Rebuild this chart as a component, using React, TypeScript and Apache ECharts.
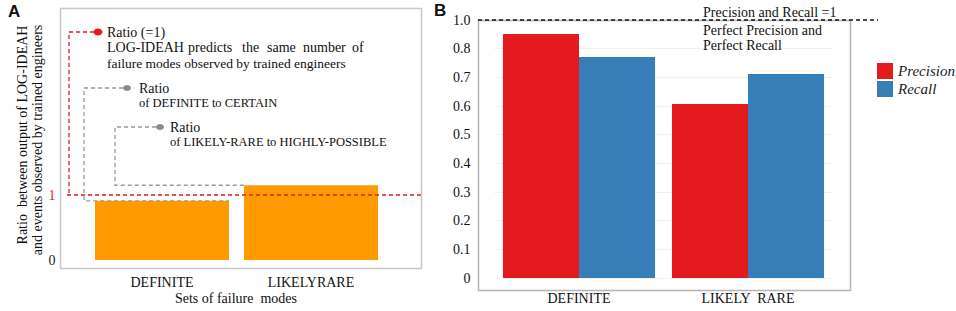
import React, { useEffect, useRef } from "react";
import * as echarts from "echarts";

// Panel A
const categoriesA = ["DEFINITE", "LIKELYRARE"];
const ratioValuesA = [0.91, 1.15];
// Panel B
const categoriesB = ["DEFINITE", "LIKELY  RARE"];
const precisionB = [0.851, 0.607];
const recallB = [0.771, 0.712];
const yTickLabelsB = ["0", "0.1", "0.2", "0.3", "0.4", "0.5", "0.6", "0.7", "0.8", "1.0"];

const SERIF = "'Liberation Serif', 'DejaVu Serif', serif";
const ORANGE = "#FF9A00";
const RED = "#E41A1C";
const BLUE = "#377EB8";

export default function App() {
  const ref = useRef<HTMLDivElement>(null);
  useEffect(() => {
    if (!ref.current) return;
    const chart = echarts.init(ref.current, null, { renderer: "svg" });
    chart.setOption({
      animation: false,
      backgroundColor: "#fff",
      grid: [
        { left: 87.5, right: 956 - 385.5, top: 0, bottom: 51 },
        { left: 494.5, right: 956 - 832.5, top: 20, bottom: 33 },
      ],
      xAxis: [
        {
          type: "category",
          gridIndex: 0,
          data: categoriesA,
          axisLine: { show: false },
          axisTick: { show: false },
          axisLabel: { margin: 15, fontFamily: SERIF, fontSize: 14, color: "#111" },
        },
        {
          type: "category",
          gridIndex: 1,
          data: categoriesB,
          axisLine: { show: false },
          axisTick: { show: false },
          axisLabel: { margin: 13, fontFamily: SERIF, fontSize: 14, color: "#111" },
        },
      ],
      yAxis: [
        {
          type: "value",
          gridIndex: 0,
          min: 0,
          max: 4,
          interval: 1,
          axisLine: { show: false },
          axisTick: { show: false },
          splitLine: { show: false },
          axisLabel: {
            margin: 32,
            fontFamily: SERIF,
            fontSize: 14,
            formatter: (v: number) => (v === 0 ? "{k|0}" : v === 1 ? "{r|1}" : ""),
            rich: {
              k: { color: "#222", fontFamily: SERIF, fontSize: 14 },
              r: { color: RED, fontFamily: SERIF, fontSize: 14 },
            },
          },
        },
        {
          type: "value",
          gridIndex: 1,
          min: 0,
          max: 0.9,
          interval: 0.1,
          axisLine: { show: false },
          axisTick: { show: false },
          splitLine: { show: true, lineStyle: { color: "#f1f1f1", width: 1 } },
          axisLabel: {
            margin: 24,
            fontFamily: SERIF,
            fontSize: 14,
            color: "#111",
            formatter: (v: number) => yTickLabelsB[Math.round(v * 10)] ?? "",
          },
        },
      ],
      legend: {
        data: ["Precision", "Recall"],
        orient: "vertical",
        left: 872,
        top: 58,
        icon: "rect",
        itemWidth: 16,
        itemHeight: 16,
        itemGap: 2,
        textStyle: { fontFamily: SERIF, fontStyle: "italic", fontSize: 15, color: "#222" },
      },
      series: [
        {
          type: "bar",
          xAxisIndex: 0,
          yAxisIndex: 0,
          data: ratioValuesA,
          barWidth: 134,
          itemStyle: { color: ORANGE },
        },
        {
          name: "Precision",
          type: "bar",
          xAxisIndex: 1,
          yAxisIndex: 1,
          data: precisionB,
          barGap: "0%",
          barCategoryGap: "10%",
          itemStyle: { color: RED },
        },
        {
          name: "Recall",
          type: "bar",
          xAxisIndex: 1,
          yAxisIndex: 1,
          data: recallB,
          barGap: "0%",
          barCategoryGap: "10%",
          itemStyle: { color: BLUE },
        },
      ],
    });

    const px = (g: number, c: number, v: number) =>
      chart.convertToPixel({ gridIndex: g }, [c, v]) as number[];
    const y1 = px(0, 0, 1)[1];
    const yDef = px(0, 0, ratioValuesA[0])[1];
    const yLR = px(0, 1, ratioValuesA[1])[1];
    const xDefRight = px(0, 0, 0)[0] + 67;
    const xLRLeft = px(0, 1, 0)[0] - 67;
    const yTopB = px(1, 0, 0.9)[1];

    const dashed = (points: number[][], color: string) => ({
      type: "polyline",
      shape: { points },
      style: { stroke: color, lineWidth: 1.3, lineDash: [4, 3], fill: null },
      z: 10,
    });
    const txt = (x: number, y: number, text: string, size = 14, extra: any = {}) => ({
      type: "text",
      x,
      y,
      style: {
        text,
        fontFamily: SERIF,
        fontSize: size,
        fill: "#111",
        textVerticalAlign: "middle",
        ...extra,
      },
      z: 10,
    });
    const words = [
      ["LOG-IDEAH", 107],
      ["predicts", 188],
      ["the", 242],
      ["same", 267],
      ["number", 303],
      ["of", 352],
    ] as [string, number][];

    chart.setOption({
      graphic: [
        // frames
        {
          type: "rect",
          shape: { x: 60.5, y: 8.5, width: 361, height: 260 },
          style: { stroke: "#c8c8c8", lineWidth: 1.5, fill: null },
          z: 1,
        },
        {
          type: "rect",
          shape: { x: 478.5, y: 20.5, width: 372, height: 270 },
          style: { stroke: "#b4b4b4", lineWidth: 1.5, fill: null },
          z: 1,
        },
        // panel labels
        {
          type: "text",
          x: 8,
          y: 3,
          style: { text: "A", fontFamily: "'Liberation Sans', Arial, sans-serif", fontWeight: "bold", fontSize: 17, fill: "#111" },
        },
        {
          type: "text",
          x: 434,
          y: 2,
          style: { text: "B", fontFamily: "'Liberation Sans', Arial, sans-serif", fontWeight: "bold", fontSize: 17, fill: "#111" },
        },
        // A y-axis title
        {
          type: "text",
          x: 22,
          y: 135,
          rotation: Math.PI / 2,
          style: {
            text: "Ratio  between output of LOG-IDEAH",
            fontFamily: SERIF,
            fontSize: 14,
            fill: "#111",
            textAlign: "center",
            textVerticalAlign: "middle",
          },
        },
        {
          type: "text",
          x: 37,
          y: 140,
          rotation: Math.PI / 2,
          style: {
            text: "and events observed by trained engineers",
            fontFamily: SERIF,
            fontSize: 14,
            fill: "#111",
            textAlign: "center",
            textVerticalAlign: "middle",
          },
        },
        // A x-axis title
        txt(236, 298, "Sets of failure  modes", 14, { textAlign: "center" }),
        // red annotation
        dashed([[67, y1], [421, y1]], RED),
        dashed([[94, 32], [69, 32], [69, y1]], RED),
        { type: "ellipse", shape: { cx: 98, cy: 32, rx: 4.5, ry: 3.5 }, style: { fill: RED }, z: 11 },
        txt(107, 32, "Ratio (=1)"),
        ...words.map(([w, x]) => txt(x, 47, w)),
        txt(107, 63, "failure modes observed by trained engineers", 13.5),
        // grey annotation 1
        dashed([[123, 88], [84, 88], [84, yDef], [xDefRight, yDef]], "#9a9a9a"),
        { type: "ellipse", shape: { cx: 127, cy: 88, rx: 4, ry: 3 }, style: { fill: "#8c8c8c" }, z: 11 },
        txt(139, 88, "Ratio"),
        txt(139, 103, "of DEFINITE to CERTAIN", 12.5, { letterSpacing: -0.3 }),
        // grey annotation 2
        dashed([[156, 127], [115, 127], [115, yLR], [xLRLeft, yLR]], "#9a9a9a"),
        { type: "ellipse", shape: { cx: 160, cy: 127, rx: 4, ry: 3 }, style: { fill: "#8c8c8c" }, z: 11 },
        txt(170, 127, "Ratio"),
        txt(170, 142, "of LIKELY-RARE to HIGHLY-POSSIBLE", 12.5, { letterSpacing: -0.3 }),
        // B perfect line
        dashed([[478, yTopB], [878, yTopB]], "#111"),
        txt(703, 12, "Precision and Recall =1"),
        txt(703, 30, "Perfect Precision and"),
        txt(703, 45, "Perfect Recall"),
      ],
    });

    return () => chart.dispose();
  }, []);
  return (
    <div
      ref={ref}
      style={{ position: "fixed", left: 0, top: 0, width: 956, height: 311 }}
    />
  );
}
